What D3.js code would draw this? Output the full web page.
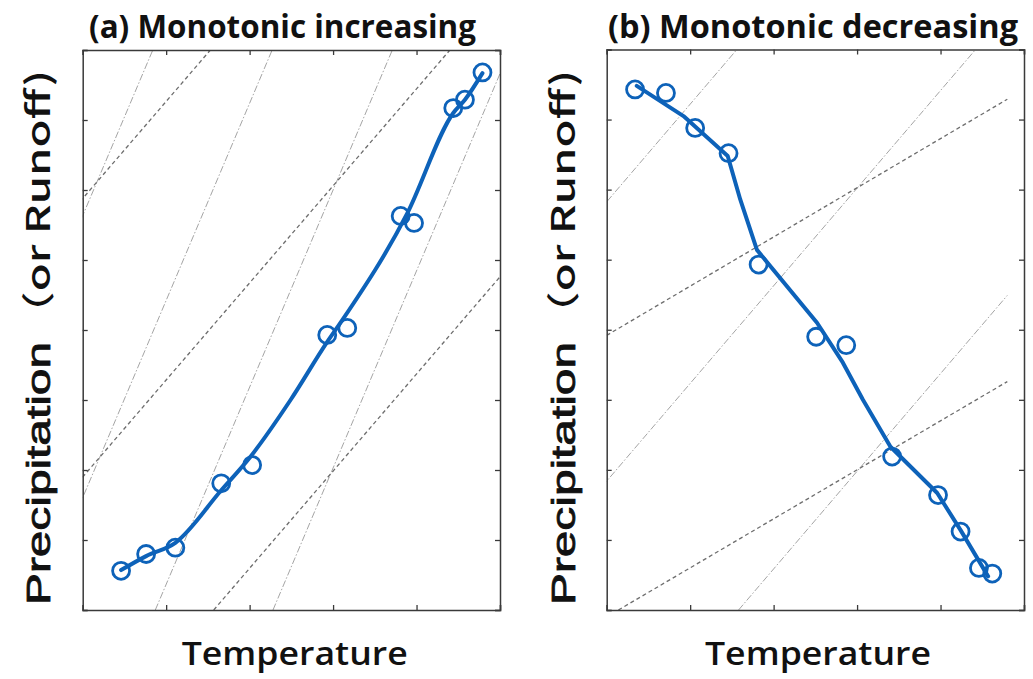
<!DOCTYPE html>
<html>
<head>
<meta charset="utf-8">
<script src="https://cdn.jsdelivr.net/npm/d3@7"></script>
<style>
  html, body { margin: 0; padding: 0; background: #fff; }
  svg { display: block; }
</style>
</head>
<body>
<svg id="chart" width="1033" height="679"></svg>
<script>
// ---------------- DATA ----------------
const xTicks = [0, 1, 2, 3, 4, 5];
const yTicks = [0, 1, 2, 3, 4, 5, 6, 7, 8];

const titles = ["(a) Monotonic increasing", "(b) Monotonic decreasing"];
const xLabel = "Temperature";
const yLabelMain = "Precipitation";
const yLabelSub = "（or Runoff)";

// Panel (a) observed points
const incX = [0.46, 0.76, 1.11, 1.66, 2.03, 2.93, 3.17, 3.81, 3.97, 4.44, 4.58, 4.79];
const incY = [0.56, 0.80, 0.89, 1.81, 2.07, 3.93, 4.03, 5.63, 5.53, 7.17, 7.29, 7.68];
// Panel (a) fitted curve
const incFitX = [0.46, 0.76, 1.11, 1.66, 2.01, 2.49, 2.93, 3.11, 3.89, 4.44, 4.58, 4.79];
const incFitY = [0.57, 0.77, 0.96, 1.71, 2.19, 3.00, 3.83, 4.14, 5.67, 7.10, 7.29, 7.67];

// Panel (b) observed points
const decX = [0.34, 0.71, 1.06, 1.46, 1.82, 2.51, 2.87, 3.42, 3.97, 4.24, 4.46, 4.62];
const decY = [7.43, 7.38, 6.88, 6.52, 4.93, 3.90, 3.78, 2.19, 1.64, 1.12, 0.60, 0.52];
// Panel (b) fitted curve
const decFitX = [0.36, 0.92, 1.45, 1.60, 1.80, 2.52, 2.83, 3.07, 3.40, 3.96, 4.24, 4.57];
const decFitY = [7.48, 7.05, 6.48, 5.86, 5.14, 4.10, 3.53, 3.00, 2.33, 1.67, 1.14, 0.48];

// Background reference lines: [x1, y1, x2, y2] in data units
const incDashDot = [[-2.00, 0, 0.84, 8], [-0.57, 0, 2.27, 8], [0.87, 0, 3.71, 8], [2.28, 0, 5.12, 8]];
const incDashed  = [[-4.24, 0, 1.53, 8], [-1.37, 0, 4.40, 8], [1.57, 0, 5.00, 4.76]];
const decDashDot = [[-4.18, 0, 1.56, 8], [-1.32, 0, 4.42, 8], [1.58, 0, 4.80, 4.49]];
const decDashed  = [[0, 3.92, 4.80, 7.29], [0.14, 0, 4.80, 3.26]];

// ---------------- DRAW ----------------
const svg = d3.select("#chart");
const blue = "#0d62b9";

const panels = [
  { id: "a", left: 82.7, right: 500, top: 50, bottom: 610,
    px: incX, py: incY, fx: incFitX, fy: incFitY, dd: incDashDot, ds: incDashed,
    curve: d3.curveMonotoneX,
    title: titles[0], titleX: 89, titleLen: 387, labX: 181.7, labLen: 226, yBase: 50 },
  { id: "b", left: 606.7, right: 1024, top: 49.5, bottom: 610,
    px: decX, py: decY, fx: decFitX, fy: decFitY, dd: decDashDot, ds: decDashed,
    curve: d3.curveLinear,
    title: titles[1], titleX: 608, titleLen: 410, labX: 705, labLen: 226, yBase: 575 }
];

const defs = svg.append("defs");

panels.forEach(p => {
  const x = d3.scaleLinear().domain([0, 5]).range([p.left, p.right]);
  const y = d3.scaleLinear().domain([0, 8]).range([p.bottom, p.top]);

  defs.append("clipPath").attr("id", "clip-" + p.id)
    .append("rect")
    .attr("x", p.left).attr("y", p.top)
    .attr("width", p.right - p.left).attr("height", p.bottom - p.top);

  const g = svg.append("g");
  const inner = g.append("g").attr("clip-path", `url(#clip-${p.id})`);

  // reference lines
  inner.selectAll("line.dd").data(p.dd).join("line")
    .attr("class", "dd")
    .attr("x1", d => x(d[0])).attr("y1", d => y(d[1]))
    .attr("x2", d => x(d[2])).attr("y2", d => y(d[3]))
    .attr("stroke", "#9a9a9a").attr("stroke-width", 0.9)
    .attr("stroke-dasharray", "7,2,1.5,2");

  inner.selectAll("line.ds").data(p.ds).join("line")
    .attr("class", "ds")
    .attr("x1", d => x(d[0])).attr("y1", d => y(d[1]))
    .attr("x2", d => x(d[2])).attr("y2", d => y(d[3]))
    .attr("stroke", "#6e6e6e").attr("stroke-width", 1.3)
    .attr("stroke-dasharray", "4,3");

  // fitted line
  const fit = p.fx.map((v, i) => [v, p.fy[i]]);
  g.append("path").datum(fit)
    .attr("fill", "none").attr("stroke", blue)
    .attr("stroke-width", 4).attr("stroke-linejoin", "round").attr("stroke-linecap", "round")
    .attr("d", d3.line().x(d => x(d[0])).y(d => y(d[1])).curve(p.curve));

  // points
  const pts = p.px.map((v, i) => [v, p.py[i]]);
  g.selectAll("circle").data(pts).join("circle")
    .attr("cx", d => x(d[0])).attr("cy", d => y(d[1]))
    .attr("r", 8.5).attr("fill", "none")
    .attr("stroke", blue).attr("stroke-width", 2.8);

  // axes with inward ticks, no labels
  const tl = 5;
  g.append("g").attr("transform", `translate(0,${p.bottom})`)
    .call(d3.axisBottom(x).tickValues(xTicks).tickSize(-tl).tickFormat(""));
  g.append("g").attr("transform", `translate(0,${p.top})`)
    .call(d3.axisTop(x).tickValues(xTicks).tickSize(-tl).tickFormat(""));
  g.append("g").attr("transform", `translate(${p.left},0)`)
    .call(d3.axisLeft(y).tickValues(yTicks).tickSize(-tl).tickFormat(""));
  g.append("g").attr("transform", `translate(${p.right},0)`)
    .call(d3.axisRight(y).tickValues(yTicks).tickSize(-tl).tickFormat(""));
  g.selectAll(".domain").attr("stroke", "#3a3a3a").attr("stroke-width", 1.5);
  g.selectAll(".tick line").attr("stroke", "#3a3a3a").attr("stroke-width", 1.3);

  // title
  svg.append("text")
    .attr("x", p.titleX).attr("y", 38)
    .attr("textLength", p.titleLen).attr("lengthAdjust", "spacingAndGlyphs")
    .attr("font-family", "'Open Sans', sans-serif").attr("font-weight", 700)
    .attr("font-size", 32).attr("fill", "#111")
    .text(p.title);

  // x label
  svg.append("text")
    .attr("x", p.labX).attr("y", 665)
    .attr("textLength", p.labLen).attr("lengthAdjust", "spacingAndGlyphs")
    .attr("font-family", "'Open Sans', sans-serif").attr("font-weight", 600)
    .attr("font-size", 33).attr("fill", "#111")
    .text(xLabel);

  // y label
  svg.append("text")
    .attr("transform", `translate(${p.yBase},605) rotate(-90)`)
    .attr("x", 0).attr("y", 0)
    .attr("textLength", 263).attr("lengthAdjust", "spacingAndGlyphs")
    .attr("font-family", "'Liberation Sans', Arial, sans-serif")
    .attr("font-size", 34).attr("fill", "#111")
    .attr("stroke", "#111").attr("stroke-width", 0.8)
    .text(yLabelMain);
  svg.append("text")
    .attr("transform", `translate(${p.yBase},337) rotate(-90)`)
    .attr("x", 0).attr("y", 0)
    .attr("textLength", 267).attr("lengthAdjust", "spacingAndGlyphs")
    .attr("font-family", "'Noto Sans CJK SC', sans-serif").attr("font-weight", 500)
    .attr("font-size", 33).attr("fill", "#111")
    .text(yLabelSub);
});
</script>
</body>
</html>
